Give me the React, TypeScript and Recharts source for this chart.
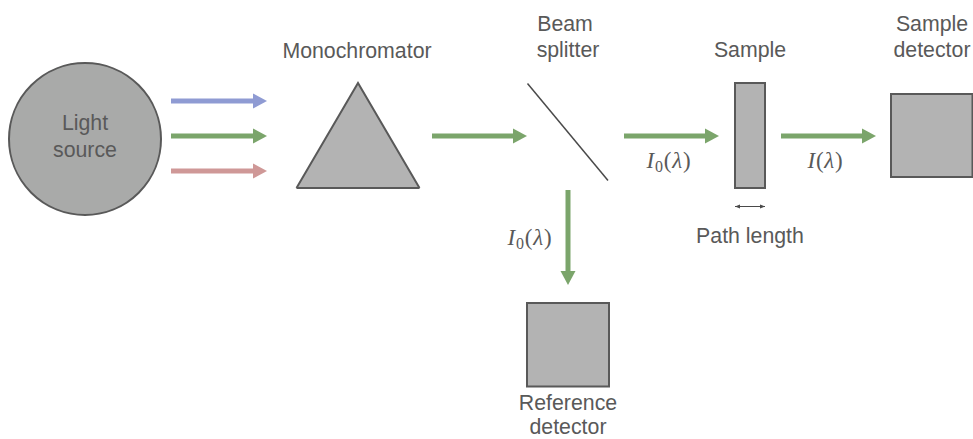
import React from "react";
import {
  ComposedChart,
  XAxis,
  YAxis,
  Line,
  Area,
  Scatter,
  ReferenceArea,
  ReferenceDot,
} from "recharts";

const W = 973;
const H = 439;

const GREEN = "#7ba56b";
const BLUE = "#8f9bd3";
const RED = "#cf9897";
const EDGE = "#595959";
const TEXT = "#595959";

// [x1, y1, x2, y2, colour]
const beams: [number, number, number, number, string][] = [
  [171, 101, 254, 101, BLUE],
  [171, 136, 254, 136, GREEN],
  [171, 171, 254, 171, RED],
  [432, 136, 514, 136, GREEN],
  [624, 136, 706, 136, GREEN],
  [781, 136, 862, 136, GREEN],
  [568, 190, 568, 272, GREEN],
];

// horizontal heads: [base x, tip x, y, colour]
const heads: [number, number, number, string][] = [
  [253, 267, 101, BLUE],
  [253, 267, 136, GREEN],
  [253, 267, 171, RED],
  [513, 527, 136, GREEN],
  [705, 719, 136, GREEN],
  [862, 876, 136, GREEN],
];

const downHead = [
  { x: 560.5, range: [271, 271] },
  { x: 568, range: [271, 285] },
  { x: 575.5, range: [271, 271] },
];

const prism = [
  { x: 296.5, range: [188, 188] },
  { x: 358, range: [83, 188] },
  { x: 419.5, range: [188, 188] },
];

const prismEdge = [
  { x: 296.5, y: 188 },
  { x: 358, y: 83 },
  { x: 419.5, y: 188 },
];

const prismBase = [
  { x: 296.5, y: 188 },
  { x: 419.5, y: 188 },
];

const splitter = [
  { x: 527.5, y: 83.5 },
  { x: 608, y: 180.5 },
];

const pathLine = [
  { x: 735, y: 206.5 },
  { x: 765, y: 206.5 },
];
const pathHeadLeft = [
  { x: 735, range: [206.5, 206.5] },
  { x: 740, range: [204.5, 208.5] },
];
const pathHeadRight = [
  { x: 760, range: [204.5, 208.5] },
  { x: 765, range: [206.5, 206.5] },
];

// x1, x2, y1, y2
const boxes = [
  [735, 765, 83, 188],
  [891, 972.5, 94, 177],
  [527, 609, 303, 386.5],
];

const labels = [
  { x: 85, y: 130, text: "Light" },
  { x: 85, y: 157, text: "source" },
  { x: 357, y: 58, text: "Monochromator" },
  { x: 565, y: 31, text: "Beam" },
  { x: 568, y: 57, text: "splitter" },
  { x: 750, y: 57, text: "Sample" },
  { x: 932, y: 31, text: "Sample" },
  { x: 932, y: 57, text: "detector" },
  { x: 750, y: 243, text: "Path length" },
  { x: 568, y: 409.5, text: "Reference" },
  { x: 568, y: 434, text: "detector" },
];

const mathLabels = [
  { x: 669, y: 168, sub: "0" },
  { x: 825.5, y: 168, sub: "" },
  { x: 530, y: 245, sub: "0" },
];

const LabelShape = (props: any) => (
  <text
    x={props.cx}
    y={props.cy}
    textAnchor="middle"
    fontFamily="'Liberation Sans', Arial, sans-serif"
    fontSize={21.3}
    fill={TEXT}
  >
    {props.payload.text}
  </text>
);

const MathShape = (props: any) => (
  <text
    x={props.cx}
    y={props.cy}
    textAnchor="middle"
    fontFamily="'Liberation Serif', serif"
    fontSize={23}
    letterSpacing={0.8}
    fill={TEXT}
  >
    <tspan fontStyle="italic">I</tspan>
    {props.payload.sub && (
      <tspan fontSize={16} dy={4}>
        {props.payload.sub}
      </tspan>
    )}
    <tspan dy={props.payload.sub ? -4 : 0}>(</tspan>
    <tspan fontStyle="italic">λ</tspan>
    <tspan>)</tspan>
  </text>
);

export default function App() {
  return (
    <div style={{ position: "absolute", left: 0, top: 0, background: "#fff" }}>
      <ComposedChart
        width={W}
        height={H}
        margin={{ top: 0, right: 0, bottom: 0, left: 0 }}
      >
        <XAxis type="number" dataKey="x" domain={[0, W]} hide />
        <YAxis type="number" dataKey="y" domain={[0, H]} reversed hide />

        <ReferenceDot
          x={85}
          y={139}
          r={76}
          fill="#a9aaa9"
          stroke={EDGE}
          strokeWidth={2}
        />
        {boxes.map(([x1, x2, y1, y2], i) => (
          <ReferenceArea
            key={i}
            x1={x1}
            x2={x2}
            y1={y1}
            y2={y2}
            fill="#b3b3b3"
            fillOpacity={1}
            stroke={EDGE}
            strokeWidth={2}
          />
        ))}

        <Area
          data={prism}
          dataKey="range"
          type="linear"
          fill="#b3b3b3"
          fillOpacity={1}
          stroke="none"
          dot={false}
          activeDot={false}
          isAnimationActive={false}
        />
        {[prismEdge, prismBase].map((d, i) => (
          <Line
            key={i}
            data={d}
            dataKey="y"
            type="linear"
            stroke={EDGE}
            strokeWidth={2}
            dot={false}
            activeDot={false}
            isAnimationActive={false}
          />
        ))}

        {beams.map(([x1, y1, x2, y2, color], i) => (
          <Line
            key={i}
            data={[
              { x: x1, y: y1 },
              { x: x2, y: y2 },
            ]}
            dataKey="y"
            type="linear"
            stroke={color}
            strokeWidth={5}
            dot={false}
            activeDot={false}
            isAnimationActive={false}
          />
        ))}
        {heads.map(([bx, tx, y, color], i) => (
          <Area
            key={i}
            data={[
              { x: bx, range: [y - 7.5, y + 7.5] },
              { x: tx, range: [y, y] },
            ]}
            dataKey="range"
            type="linear"
            fill={color}
            fillOpacity={1}
            stroke="none"
            dot={false}
            activeDot={false}
            isAnimationActive={false}
          />
        ))}
        <Area
          data={downHead}
          dataKey="range"
          type="linear"
          fill={GREEN}
          fillOpacity={1}
          stroke="none"
          dot={false}
          activeDot={false}
          isAnimationActive={false}
        />

        <Line
          data={splitter}
          dataKey="y"
          type="linear"
          stroke="#4a4a4a"
          strokeWidth={1.5}
          dot={false}
          activeDot={false}
          isAnimationActive={false}
        />
        <Line
          data={pathLine}
          dataKey="y"
          type="linear"
          stroke="#4a4a4a"
          strokeWidth={1}
          dot={false}
          activeDot={false}
          isAnimationActive={false}
        />
        {[pathHeadLeft, pathHeadRight].map((d, i) => (
          <Area
            key={i}
            data={d}
            dataKey="range"
            type="linear"
            fill="#4a4a4a"
            fillOpacity={1}
            stroke="none"
            dot={false}
            activeDot={false}
            isAnimationActive={false}
          />
        ))}

        <Scatter data={labels} dataKey="y" shape={LabelShape} isAnimationActive={false} />
        <Scatter data={mathLabels} dataKey="y" shape={MathShape} isAnimationActive={false} />
      </ComposedChart>
    </div>
  );
}
